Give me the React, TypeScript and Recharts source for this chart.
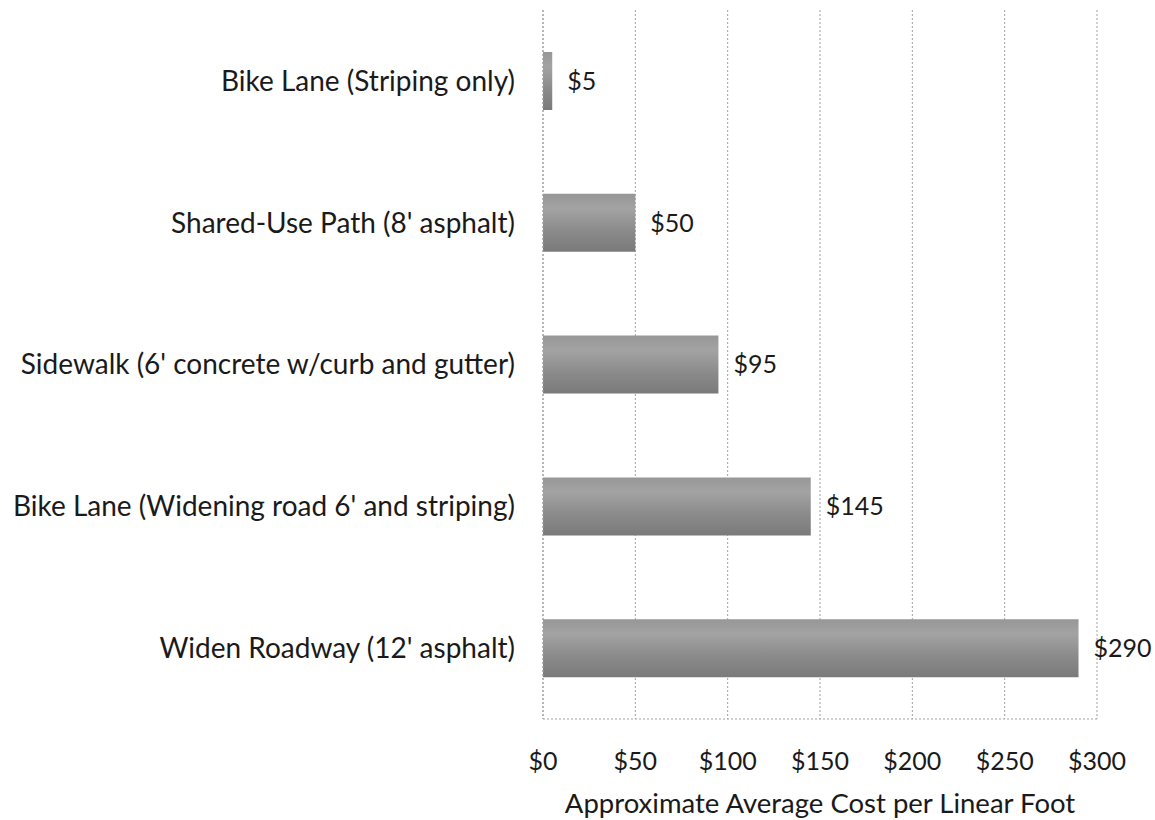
import { Bar, BarChart, CartesianGrid, Label, LabelList, XAxis, YAxis } from 'recharts';

const categories = [
    'Bike Lane (Striping only)',
    "Shared-Use Path (8' asphalt)",
    "Sidewalk (6' concrete w/curb and gutter)",
    "Bike Lane (Widening road 6' and striping)",
    "Widen Roadway (12' asphalt)",
];
const costs = [5, 50, 95, 145, 290];
const costTicks = [0, 50, 100, 150, 200, 250, 300];

const data = categories.map((name, i) => ({ name, cost: costs[i] }));

const font = 'Lato, "Open Sans", sans-serif';

export default function App() {
    return (
        <div style={{ position: 'absolute', left: 0, top: 0, width: 1155, height: 820, background: '#fff' }}>
            <BarChart
                width={1155}
                height={820}
                data={data}
                layout="vertical"
                margin={{ top: 10, right: 58, left: 0, bottom: 0 }}
                barCategoryGap={0}
                style={{ fontFamily: font }}
            >
                <defs>
                    <linearGradient id="barFill" x1="0" y1="0" x2="0" y2="1">
                        <stop offset="0%" stopColor="#979797" />
                        <stop offset="25%" stopColor="#a3a3a3" />
                        <stop offset="65%" stopColor="#8a8a8a" />
                        <stop offset="100%" stopColor="#7a7a7a" />
                    </linearGradient>
                </defs>
                <CartesianGrid horizontal={false} stroke="#a0a0a0" strokeDasharray="2 2" />
                <XAxis
                    type="number"
                    domain={[0, 300]}
                    ticks={costTicks}
                    tickFormatter={(v) => `$${v}`}
                    tickSize={0}
                    tickMargin={33}
                    axisLine={{ stroke: '#a0a0a0', strokeDasharray: '2 2' }}
                    tick={{ fill: '#1a1a1a', fontSize: 25 }}
                    height={101}
                    interval={0}
                >
                    <Label
                        value="Approximate Average Cost per Linear Foot"
                        position="insideBottom"
                        offset={7}
                        fill="#1a1a1a"
                        fontSize={27.5}
                    />
                </XAxis>
                <YAxis
                    type="category"
                    dataKey="name"
                    width={543}
                    tickSize={0}
                    tickMargin={28}
                    axisLine={{ stroke: '#a0a0a0', strokeDasharray: '2 2' }}
                    tick={{ fill: '#1a1a1a', fontSize: 28 }}
                    interval={0}
                />
                <Bar
                    dataKey="cost"
                    fill="url(#barFill)"
                    barSize={58}
                    isAnimationActive={false}
                >
                    <LabelList
                        dataKey="cost"
                        position="right"
                        offset={15}
                        formatter={(v: number) => `$${v}`}
                        fill="#1a1a1a"
                        fontSize={25}
                    />
                </Bar>
            </BarChart>
        </div>
    );
}
